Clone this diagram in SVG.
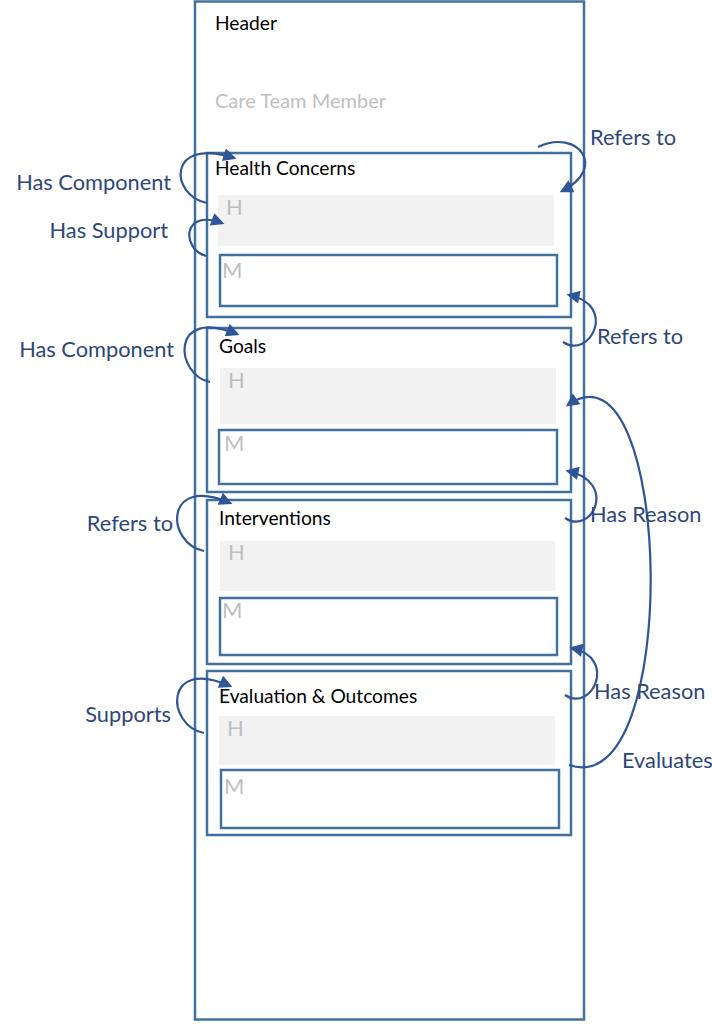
<svg xmlns="http://www.w3.org/2000/svg" width="712" height="1024" viewBox="0 0 712 1024">
<defs>
<marker id="arr" viewBox="0 0 10 10" refX="8" refY="5" markerWidth="6.5" markerHeight="6" markerUnits="strokeWidth" orient="auto">
<path d="M0,0 L10,5 L0,10 z" fill="#2F5597"/>
</marker>
<style>
.box{fill:#fff;stroke:#41719C;stroke-width:2.5}
.hrow{fill:#F2F2F2}
.mrow{fill:#fff;stroke:#41719C;stroke-width:2.5}
.ttl{font-family:Lato,"Liberation Sans",sans-serif;font-size:19.2px;fill:#000}
.ph{font-family:Lato,"Liberation Sans",sans-serif;font-size:22px;fill:#BFBFBF}
.lbl{font-family:Lato,"Liberation Sans",sans-serif;font-size:21.8px;fill:#2E4779}
.con{fill:none;stroke:#2F5597;stroke-width:2.2;marker-end:url(#arr)}
</style>
</defs>
<g id="document">
<rect class="box" x="195" y="1.5" width="389" height="1018"/>
<text class="ttl" x="215" y="30">Header</text>
<text class="ttl" x="215" y="108" style="fill:#BFBFBF;font-size:20px">Care Team Member</text>
</g>
<g id="health-concerns">
<rect class="box" x="207" y="153" width="364" height="164"/>
<text class="ttl" x="215" y="175">Health Concerns</text>
<rect class="hrow" x="218" y="195" width="336" height="51"/>
<text class="ph" x="226" y="215">H</text>
<rect class="mrow" x="220" y="255" width="337" height="51"/>
<text class="ph" x="222" y="278">M</text>
</g>
<g id="goals">
<rect class="box" x="207" y="328" width="364" height="164"/>
<text class="ttl" x="219" y="353">Goals</text>
<rect class="hrow" x="220" y="368" width="336" height="56"/>
<text class="ph" x="228" y="388">H</text>
<rect class="mrow" x="219" y="430" width="338" height="54"/>
<text class="ph" x="224" y="451">M</text>
</g>
<g id="interventions">
<rect class="box" x="207" y="500" width="364" height="164"/>
<text class="ttl" x="219" y="525">Interventions</text>
<rect class="hrow" x="220" y="541" width="335" height="50"/>
<text class="ph" x="228" y="560">H</text>
<rect class="mrow" x="220" y="598" width="337" height="57"/>
<text class="ph" x="222" y="618">M</text>
</g>
<g id="evaluation-outcomes">
<rect class="box" x="207" y="671" width="364" height="164"/>
<text class="ttl" x="219" y="703">Evaluation &amp; Outcomes</text>
<rect class="hrow" x="219" y="716" width="336" height="49"/>
<text class="ph" x="227" y="736">H</text>
<rect class="mrow" x="221" y="770" width="338" height="58"/>
<text class="ph" x="224" y="794">M</text>
</g>
<g id="connectors">
<path class="con" d="M207,203 C170,196 166,136 234,158"/>
<path class="con" d="M206,256 C182,250 181,208 222,223"/>
<path class="con" d="M210,382 C176,376 168,306 237,334"/>
<path class="con" d="M204,551 C166,544 163,474 230,503"/>
<path class="con" d="M204,733 C166,726 163,656 230,686"/>
<path class="con" d="M538,147 C578,128 608,168 562,191"/>
<path class="con" d="M563,342 C590,360 618,305 569,295"/>
<path class="con" d="M565,518 C592,536 618,482 568,471"/>
<path class="con" d="M565,695 C592,713 618,658 572,648"/>
<path class="con" d="M569,765 C683,805 673,330 568,405"/>
</g>
<g id="labels">
<text class="lbl" x="171" y="190" text-anchor="end">Has Component</text>
<text class="lbl" x="168" y="238" text-anchor="end">Has Support</text>
<text class="lbl" x="174" y="357" text-anchor="end">Has Component</text>
<text class="lbl" x="173" y="531" text-anchor="end">Refers to</text>
<text class="lbl" x="171" y="722" text-anchor="end">Supports</text>
<text class="lbl" x="590" y="145">Refers to</text>
<text class="lbl" x="597" y="344">Refers to</text>
<text class="lbl" x="590" y="522">Has Reason</text>
<text class="lbl" x="594" y="699">Has Reason</text>
<text class="lbl" x="622" y="768">Evaluates</text>
</g>
</svg>
